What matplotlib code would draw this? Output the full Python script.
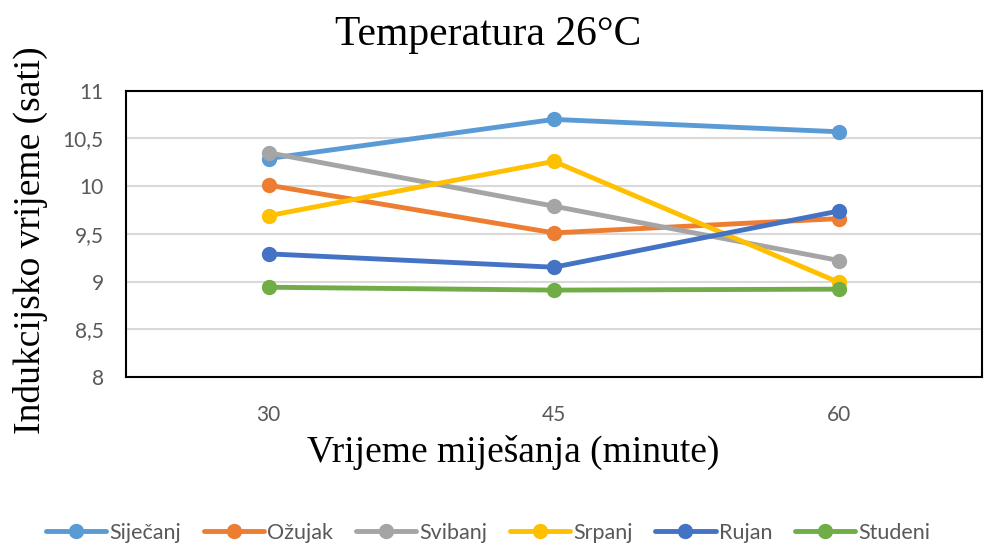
import matplotlib.pyplot as plt
from matplotlib.ticker import FuncFormatter

# data
minutes = ["30", "45", "60"]
series_names = ["Siječanj", "Ožujak", "Svibanj", "Srpanj", "Rujan", "Studeni"]
sijecanj = [10.29, 10.70, 10.57]
ozujak = [10.01, 9.51, 9.66]
svibanj = [10.35, 9.79, 9.22]
srpanj = [9.69, 10.26, 8.99]
rujan = [9.29, 9.15, 9.74]
studeni = [8.94, 8.91, 8.92]
y_ticks = [8, 8.5, 9, 9.5, 10, 10.5, 11]

colors = ["#5B9BD5", "#ED7D31", "#A5A5A5", "#FFC000", "#4472C4", "#70AD47"]
values = [sijecanj, ozujak, svibanj, srpanj, rujan, studeni]

serif = "Liberation Serif"
sans = "Lato"
gray = "#595959"

fig = plt.figure(figsize=(9.87, 5.47), dpi=100)
ax = fig.add_axes([0.1277, 0.311, 0.867, 0.523])

x = list(range(len(minutes)))
for name, vals, c in zip(series_names, values, colors):
    ax.plot(x, vals, color=c, lw=3.5, marker="o", ms=10,
            solid_capstyle="round", label=name)

ax.set_xlim(-0.5, 2.5)
ax.set_ylim(8, 11)
ax.set_xticks(x)
ax.set_xticklabels(minutes)
ax.set_yticks(y_ticks)
ax.yaxis.set_major_formatter(
    FuncFormatter(lambda v, p: ("%g" % v).replace(".", ",")))
ax.tick_params(length=0, labelsize=15, labelcolor=gray)
for lab in ax.get_xticklabels() + ax.get_yticklabels():
    lab.set_family(sans)
ax.tick_params(axis="y", pad=16)
ax.tick_params(axis="x", pad=20)
ax.grid(axis="y", color="#D9D9D9", lw=1.5)
ax.set_axisbelow(True)
for s in ax.spines.values():
    s.set_color("black")
    s.set_linewidth(1.5)

fig.text(0.495, 0.936, "Temperatura 26°C", ha="center", va="center",
         family=serif, fontsize=30)
fig.text(0.52, 0.172, "Vrijeme miješanja (minute)", ha="center", va="center",
         family=serif, fontsize=27)
fig.text(0.031, 0.561, "Indukcijsko vrijeme (sati)", ha="center", va="center",
         rotation=90, family=serif, fontsize=27)

leg = fig.legend(loc="center", bbox_to_anchor=(0.4945, 0.026), ncol=6,
                 frameon=False, handlelength=2.8, handletextpad=0.15,
                 columnspacing=1.05, prop={"family": sans, "size": 15.5})
for t in leg.get_texts():
    t.set_color(gray)

fig.savefig("out.png", dpi=100)
